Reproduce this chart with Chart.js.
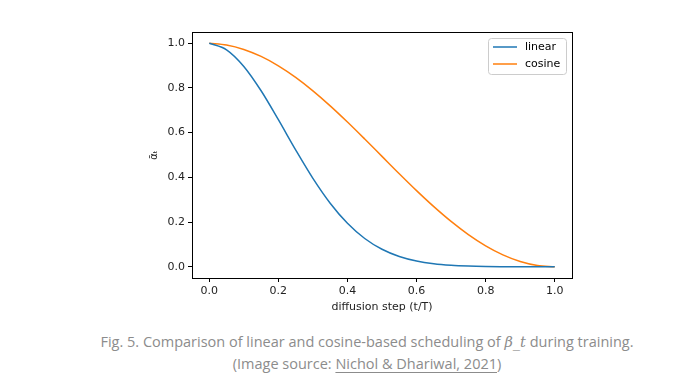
<!DOCTYPE html>
<html>
<head>
<meta charset="utf-8">
<script src="https://cdn.jsdelivr.net/npm/chart.js@4"></script>
<style>
  html, body { margin: 0; padding: 0; background: #fff; }
  body { width: 686px; height: 385px; overflow: hidden; position: relative; }
  #wrap { position: absolute; left: 0; top: 0; width: 686px; height: 322px; }
  #cap { position: absolute; left: 48px; width: 638px; top: 331px; text-align: center;
         font-family: "Open Sans", sans-serif; font-size: 14.5px; line-height: 22px; color: #8c8c8c; }
  #cap i { font-family: "DejaVu Serif", serif; font-style: italic; }
  #cap u { text-decoration-color: #8c8c8c; text-underline-offset: 3px; }
</style>
</head>
<body>
<div id="wrap"><canvas id="c"></canvas></div>
<div id="cap">Fig. 5. Comparison of linear and cosine-based scheduling of <i>β_t</i> during training.<br>(Image source: <u>Nichol &amp; Dhariwal, 2021</u>)</div>
<script>
// diffusion step (t/T)
const steps = [0.00,0.05,0.10,0.15,0.20,0.25,0.30,0.35,0.40,0.45,0.50,0.55,0.60,0.65,0.70,0.75,0.80,0.85,0.90,0.95,1.00];
// alpha-bar, linear schedule
const linearVals = [1.0000,0.9706,0.8962,0.7874,0.6580,0.5231,0.3956,0.2846,0.1947,0.1267,0.0784,0.0461,0.0258,0.0137,0.0070,0.0034,0.0015,0.0007,0.0003,0.0001,0.0000];
// alpha-bar, cosine schedule
const cosineVals = [1.0000,0.9920,0.9721,0.9407,0.8987,0.8470,0.7869,0.7199,0.6475,0.5715,0.4939,0.4163,0.3408,0.2692,0.2031,0.1443,0.0941,0.0537,0.0241,0.0061,0.0000];
const seriesNames = ["linear", "cosine"];
const xTicks = [0, 0.2, 0.4, 0.6, 0.8, 1.0];
const yTicks = [0, 0.2, 0.4, 0.6, 0.8, 1.0];
const colors = ["#1f77b4", "#ff7f0e"];

const tickFont = { family: "DejaVu Sans", size: 11 };

const framePlugin = {
  id: 'frame',
  afterDraw(chart) {
    const { ctx, chartArea: a } = chart;
    ctx.save();
    ctx.strokeStyle = '#000';
    ctx.lineWidth = 1;
    ctx.strokeRect(Math.round(a.left) + 0.5, Math.round(a.top) + 0.5, Math.round(a.right - a.left), Math.round(a.bottom - a.top));
    // legend in upper right
    const bw = 78, bh = 36;
    const bx = a.right - 6 - bw, by = a.top + 6;
    ctx.fillStyle = 'rgba(255,255,255,0.8)';
    ctx.strokeStyle = '#cccccc';
    ctx.beginPath();
    if (ctx.roundRect) ctx.roundRect(bx + 0.5, by + 0.5, bw, bh, 3); else ctx.rect(bx + 0.5, by + 0.5, bw, bh);
    ctx.fill(); ctx.stroke();
    ctx.font = '11px "DejaVu Sans"';
    ctx.textBaseline = 'middle';
    chart.data.datasets.forEach((ds, i) => {
      const y = by + 9 + i * 17;
      ctx.strokeStyle = ds.borderColor;
      ctx.lineWidth = 1.5;
      ctx.beginPath(); ctx.moveTo(bx + 5, y); ctx.lineTo(bx + 29, y); ctx.stroke();
      ctx.fillStyle = '#000';
      ctx.fillText(ds.label, bx + 37, y);
    });
    ctx.restore();
  }
};

new Chart(document.getElementById('c'), {
  type: 'line',
  data: {
    labels: steps,
    datasets: [
      { label: seriesNames[0], data: steps.map((x, i) => ({ x, y: linearVals[i] })), borderColor: colors[0], backgroundColor: colors[0], borderWidth: 1.5, pointRadius: 0, cubicInterpolationMode: 'monotone', fill: false },
      { label: seriesNames[1], data: steps.map((x, i) => ({ x, y: cosineVals[i] })), borderColor: colors[1], backgroundColor: colors[1], borderWidth: 1.5, pointRadius: 0, cubicInterpolationMode: 'monotone', fill: false }
    ]
  },
  options: {
    responsive: true,
    maintainAspectRatio: false,
    animation: false,
    events: [],
    layout: { padding: { left: 144, right: 114, top: 32, bottom: 4 } },
    plugins: { legend: { display: false }, tooltip: { enabled: false } },
    scales: {
      x: {
        type: 'linear', min: -0.05, max: 1.05,
        afterBuildTicks: s => { s.ticks = xTicks.map(v => ({ value: v })); },
        afterFit: s => { s.height = 40; },
        border: { display: true, color: '#000', width: 1 },
        grid: { drawOnChartArea: false, drawTicks: true, tickLength: 4, color: '#000' },
        ticks: { color: '#222', font: tickFont, padding: 3, callback: v => v.toFixed(1), maxRotation: 0 },
        title: { display: true, text: 'diffusion step (t/T)', color: '#222', font: tickFont, padding: { top: 2, bottom: 4 } }
      },
      y: {
        type: 'linear', min: -0.05, max: 1.05,
        afterBuildTicks: s => { s.ticks = yTicks.map(v => ({ value: v })); },
        afterFit: s => { s.width = 48; },
        border: { display: true, color: '#000', width: 1 },
        grid: { drawOnChartArea: false, drawTicks: true, tickLength: 4, color: '#000' },
        ticks: { color: '#222', font: tickFont, padding: 3, callback: v => v.toFixed(1) },
        title: { display: true, text: 'ᾱₜ', color: '#222', font: { family: "DejaVu Sans", size: 10 }, padding: 4 }
      }
    }
  },
  plugins: [framePlugin]
});
</script>
</body>
</html>
